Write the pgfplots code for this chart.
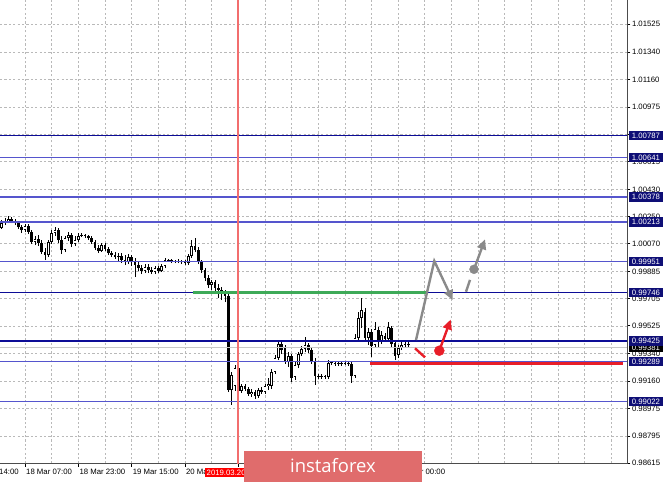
\documentclass[border=0pt]{standalone}
\usepackage{fontspec}
\setmainfont{Liberation Sans}
\newfontfamily\bannerfont{Open Sans}
\usepackage{pgfplots}
\pgfplotsset{compat=1.18}
\usepackage{pgfplotstable}
\usetikzlibrary{arrows.meta}

\definecolor{navyd}{RGB}{12,12,150}
\definecolor{navyl}{RGB}{85,85,205}
\definecolor{boxnavy}{RGB}{14,14,118}
\definecolor{gridc}{RGB}{185,185,185}
\definecolor{greenl}{RGB}{62,170,88}
\definecolor{redl}{RGB}{232,30,40}
\definecolor{vline}{RGB}{242,110,110}
\definecolor{arrowgray}{RGB}{138,138,138}
\definecolor{banner}{RGB}{224,108,108}
\definecolor{bidline}{RGB}{200,200,200}

\newcommand{\tk}{\fontsize{7.8}{9}\selectfont}

% H1 candles: x (px), open, high, low, close
\pgfplotstableread{
x o h l c
1.7 1.00173 1.00226 1.00167 1.00207
5.0 1.00207 1.00240 1.00193 1.00220
8.3 1.00220 1.00253 1.00207 1.00233
11.7 1.00233 1.00246 1.00207 1.00220
15.0 1.00220 1.00233 1.00193 1.00207
18.3 1.00207 1.00220 1.00167 1.00180
21.7 1.00180 1.00193 1.00140 1.00160
25.0 1.00160 1.00200 1.00147 1.00187
28.3 1.00187 1.00200 1.00134 1.00147
31.7 1.00147 1.00160 1.00067 1.00081
35.0 1.00081 1.00120 1.00061 1.00100
38.3 1.00100 1.00127 1.00054 1.00074
41.7 1.00074 1.00094 1.00001 1.00014
45.0 1.00014 1.00041 0.99961 0.99994
48.3 0.99994 1.00094 0.99981 1.00081
51.7 1.00081 1.00160 1.00067 1.00140
55.0 1.00140 1.00180 1.00120 1.00160
58.3 1.00160 1.00173 1.00074 1.00094
61.7 1.00094 1.00120 1.00001 1.00027
65.0 1.00027 1.00120 1.00014 1.00107
68.3 1.00107 1.00147 1.00087 1.00127
71.7 1.00127 1.00140 1.00047 1.00067
75.0 1.00067 1.00120 1.00054 1.00094
78.3 1.00094 1.00140 1.00081 1.00120
81.7 1.00120 1.00140 1.00114 1.00127
85.0 1.00127 1.00134 1.00107 1.00120
88.3 1.00120 1.00127 1.00094 1.00107
91.7 1.00107 1.00120 1.00067 1.00081
95.0 1.00081 1.00094 1.00027 1.00041
98.3 1.00041 1.00061 1.00008 1.00021
101.7 1.00021 1.00074 1.00014 1.00061
105.0 1.00061 1.00074 1.00021 1.00034
108.3 1.00034 1.00047 0.99994 1.00008
111.7 1.00008 1.00021 0.99981 0.99994
115.0 0.99994 1.00014 0.99968 0.99981
118.3 0.99981 1.00008 0.99955 0.99988
121.7 0.99988 1.00008 0.99941 0.99961
125.0 0.99961 0.99994 0.99928 0.99948
128.3 0.99948 1.00001 0.99935 0.99981
131.7 0.99981 0.99994 0.99921 0.99948
135.0 0.99948 0.99974 0.99848 0.99928
138.3 0.99928 0.99948 0.99888 0.99908
141.7 0.99908 0.99928 0.99868 0.99888
145.0 0.99888 0.99935 0.99875 0.99915
148.3 0.99915 0.99935 0.99875 0.99895
151.7 0.99895 0.99915 0.99868 0.99882
155.0 0.99882 0.99921 0.99868 0.99908
158.3 0.99908 0.99921 0.99875 0.99888
161.7 0.99888 0.99935 0.99882 0.99921
165.0 0.99921 0.99974 0.99908 0.99961
168.3 0.99961 0.99968 0.99948 0.99955
171.7 0.99955 0.99968 0.99941 0.99956
175.0 0.99955 0.99961 0.99941 0.99948
178.3 0.99948 0.99968 0.99941 0.99955
181.7 0.99955 0.99961 0.99935 0.99948
185.0 0.99948 0.99961 0.99928 0.99941
188.3 0.99941 1.00001 0.99928 0.99988
191.7 0.99988 1.00094 0.99974 1.00054
195.0 1.00054 1.00107 1.00014 1.00027
198.3 1.00027 1.00047 0.99935 0.99948
201.7 0.99948 0.99961 0.99875 0.99895
205.0 0.99895 0.99908 0.99822 0.99842
208.3 0.99842 0.99862 0.99776 0.99795
211.7 0.99795 0.99829 0.99762 0.99815
215.0 0.99815 0.99829 0.99736 0.99776
218.3 0.99776 0.99802 0.99709 0.99762
221.7 0.99762 0.99782 0.99696 0.99749
225.0 0.99749 0.99762 0.99683 0.99723
228.3 0.99723 0.99742 0.99086 0.99099
231.7 0.99099 0.99219 0.99000 0.99199
235.0 0.99126 0.99265 0.99093 0.99245
238.3 0.99245 0.99258 0.99080 0.99093
241.7 0.99093 0.99139 0.99080 0.99126
245.0 0.99126 0.99139 0.99093 0.99106
248.3 0.99106 0.99119 0.99060 0.99073
251.7 0.99073 0.99106 0.99053 0.99086
255.0 0.99086 0.99099 0.99040 0.99060
258.3 0.99060 0.99113 0.99046 0.99099
261.7 0.99099 0.99119 0.99073 0.99086
265.0 0.99086 0.99139 0.99073 0.99126
268.3 0.99126 0.99179 0.99099 0.99139
271.7 0.99126 0.99239 0.99106 0.99219
275.0 0.99219 0.99331 0.99205 0.99311
278.3 0.99311 0.99424 0.99298 0.99404
281.7 0.99404 0.99418 0.99338 0.99364
285.0 0.99378 0.99398 0.99272 0.99285
288.3 0.99285 0.99351 0.99252 0.99325
291.7 0.99325 0.99338 0.99152 0.99179
295.0 0.99186 0.99285 0.99166 0.99265
298.3 0.99265 0.99351 0.99245 0.99338
301.7 0.99338 0.99391 0.99325 0.99371
305.0 0.99371 0.99451 0.99351 0.99398
308.3 0.99398 0.99411 0.99345 0.99364
311.7 0.99364 0.99378 0.99272 0.99292
315.0 0.99292 0.99311 0.99133 0.99192
318.3 0.99192 0.99205 0.99172 0.99186
321.7 0.99186 0.99205 0.99172 0.99192
325.0 0.99192 0.99199 0.99172 0.99186
328.3 0.99186 0.99298 0.99172 0.99278
331.7 0.99278 0.99292 0.99265 0.99280
335.0 0.99278 0.99292 0.99258 0.99272
338.3 0.99272 0.99292 0.99258 0.99278
341.7 0.99278 0.99292 0.99258 0.99272
345.0 0.99272 0.99292 0.99265 0.99278
348.3 0.99278 0.99285 0.99258 0.99272
351.7 0.99272 0.99285 0.99146 0.99192
355.0 0.99192 0.99470 0.99179 0.99444
358.3 0.99444 0.99616 0.99418 0.99577
361.7 0.99577 0.99709 0.99510 0.99630
365.0 0.99616 0.99642 0.99418 0.99444
368.3 0.99444 0.99510 0.99398 0.99484
371.7 0.99484 0.99504 0.99318 0.99391
375.0 0.99398 0.99550 0.99378 0.99504
378.3 0.99497 0.99517 0.99378 0.99418
381.7 0.99424 0.99490 0.99404 0.99464
385.0 0.99457 0.99477 0.99418 0.99437
388.3 0.99437 0.99550 0.99424 0.99517
391.7 0.99510 0.99523 0.99384 0.99404
395.0 0.99411 0.99431 0.99298 0.99325
398.3 0.99331 0.99398 0.99311 0.99378
401.7 0.99378 0.99418 0.99364 0.99398
405.0 0.99398 0.99424 0.99378 0.99404
408.3 0.99404 0.99418 0.99384 0.99398
}\candles

\begin{document}
\begin{tikzpicture}
\path[use as bounding box] (0,0) rectangle (665bp,482bp);
\begin{axis}[
  at={(0,18.3bp)}, anchor=south west,
  scale only axis, width=627.3bp, height=463.7bp,
  xmin=0, xmax=627.3, ymin=0.986105, ymax=1.016862,
  axis x line*=bottom, axis y line*=right,
  axis line style={-, draw=black!70, line width=0.9bp},
  tick align=outside, major tick length=3bp, minor tick length=0pt,
  tick style={draw=black, line width=0.7bp},
  scaled ticks=false,
  xtick={25,78.3,131.6,184.9,238.2,291.5,344.8,398.1},
  xticklabels={18 Mar 07:00,18 Mar 23:00,19 Mar 15:00,20 Mar 07:00,20 Mar 23:00,21 Mar 15:00,22 Mar 07:00,21 Mar 00:00},
  minor xtick={51.65,104.95,158.25,211.55,264.85,318.15,371.45,424.75,451.4,478.05,504.7,531.35,558,584.65,611.3},
  ytick={0.98615,0.98795,0.98975,0.99160,0.99340,0.99525,0.99705,0.99885,1.00070,1.00250,1.00430,1.00615,1.00795,1.00975,1.01160,1.01340,1.01525},
  yticklabels={0.98615,0.98795,0.98975,0.99160,0.99340,0.99525,0.99705,0.99885,1.00070,1.00250,1.00430,1.00615,1.00795,1.00975,1.01160,1.01340,1.01525},
  grid=both,
  major grid style={draw=gridc, dash pattern=on 2.2bp off 2.2bp, line width=0.55bp},
  minor grid style={draw=gridc, dash pattern=on 2.2bp off 2.2bp, line width=0.55bp},
  xticklabel style={font=\tk, anchor=north west, inner sep=0pt, xshift=1bp, yshift=-2.5bp},
  yticklabel style={font=\tk, anchor=west, inner sep=0pt, xshift=1.5bp},
]
% wicks
\addplot[draw=none, mark=none, error bars/.cd, y dir=plus, y explicit, error mark=none,
  error bar style={draw=black, line width=0.9bp}]
  table[x=x, y=l, y error plus expr={\thisrow{h}-\thisrow{l}}] {\candles};
% bodies
\addplot[draw=none, mark=none, error bars/.cd, y dir=plus, y explicit, error mark=none,
  error bar style={draw=black, line width=2.9bp}]
  table[x=x, y expr={min(\thisrow{o},\thisrow{c})}, y error plus expr={max(abs(\thisrow{c}-\thisrow{o}),0.00008)}] {\candles};
% hollow inside of rising candles
\addplot[draw=none, mark=none, error bars/.cd, y dir=plus, y explicit, error mark=none,
  error bar style={draw=white, line width=1.1bp}]
  table[x=x, y expr={\thisrow{o}+0.00005}, y error plus expr={max(\thisrow{c}-\thisrow{o}-0.0001,0)}] {\candles};

% bid line
\addplot[bidline, line width=1bp] coordinates {(0,0.99381) (627.3,0.99381)};
% levels
\addplot[navyd, line width=1.2bp] coordinates {(0,1.00787) (627.3,1.00787)};
\addplot[navyl, line width=1.6bp] coordinates {(0,1.00641) (627.3,1.00641)};
\addplot[navyl, line width=1.6bp] coordinates {(0,1.00378) (627.3,1.00378)};
\addplot[navyl, line width=1.6bp] coordinates {(0,1.00213) (627.3,1.00213)};
\addplot[navyl, line width=1.6bp] coordinates {(0,0.99951) (627.3,0.99951)};
\addplot[navyd, line width=1.2bp] coordinates {(0,0.99746) (627.3,0.99746)};
\addplot[navyd, line width=1.2bp] coordinates {(0,0.99425) (627.3,0.99425)};
\addplot[navyl, line width=1.6bp] coordinates {(0,0.99289) (627.3,0.99289)};
\addplot[navyl, line width=1.6bp] coordinates {(0,0.99022) (627.3,0.99022)};
% green and red levels
\addplot[greenl, line width=3bp] coordinates {(193,0.99746) (428,0.99746)};
\addplot[redl, line width=2.6bp] coordinates {(370,0.99275) (623,0.99275)};
% vertical line
\addplot[vline, line width=1.3bp] coordinates {(237.9,0.986105) (237.9,1.016862)};

% forecast arrows
\addplot[arrowgray, line width=2.4bp, -{Triangle[length=10bp,width=9bp]}]
  coordinates {(416,0.99431) (434.3,0.99955) (452.7,0.99696)};
\addplot[arrowgray, line width=2.4bp] coordinates {(466,0.99751) (470,0.99830)};
\addplot[only marks, mark=*, mark size=4.5bp, mark options={draw=arrowgray, fill=arrowgray}]
  coordinates {(474,0.99900)};
\addplot[arrowgray, line width=2.4bp, -{Triangle[length=10bp,width=9bp]}]
  coordinates {(474,0.99900) (485,1.00099)};
\addplot[redl, line width=2.4bp] coordinates {(415,0.99376) (425,0.99316)};
\addplot[only marks, mark=*, mark size=5bp, mark options={draw=redl, fill=redl}]
  coordinates {(439.3,0.99360)};
\addplot[redl, line width=2.4bp, -{Triangle[length=10bp,width=9bp]}]
  coordinates {(439.3,0.99360) (450.7,0.99567)};

\coordinate (b1) at (axis cs:627.3,1.00787);
\coordinate (b2) at (axis cs:627.3,1.00641);
\coordinate (b3) at (axis cs:627.3,1.00378);
\coordinate (b4) at (axis cs:627.3,1.00213);
\coordinate (b5) at (axis cs:627.3,0.99951);
\coordinate (b6) at (axis cs:627.3,0.99746);
\coordinate (b7) at (axis cs:627.3,0.99425);
\coordinate (b8) at (axis cs:627.3,0.99289);
\coordinate (b9) at (axis cs:627.3,0.99022);
\coordinate (bid) at (axis cs:627.3,0.99381);
\end{axis}

% price tags on the right
\node[anchor=west, fill=black, text=white, font=\tk, inner xsep=3bp, inner ysep=0pt, minimum height=9.5bp] at ([xshift=1.4bp]bid) {0.99381};
\foreach \n/\v in {b1/1.00787,b2/1.00641,b3/1.00378,b4/1.00213,b5/0.99951,b6/0.99746,b7/0.99425,b8/0.99289,b9/0.99022}
  \node[anchor=west, fill=boxnavy, text=white, font=\tk, inner xsep=3bp, inner ysep=0pt, minimum height=9.5bp] at ([xshift=1.4bp]\n) {\v};

% cut-off first time label
\node[anchor=north west, inner sep=0pt, font=\tk] at (-27.3bp,12.8bp) {15 Mar 14:00};
% date tag of the vertical line
\node[anchor=west, fill=red, text=white, font=\tk, inner xsep=1.5bp, inner ysep=0pt, minimum height=9.5bp] at (205bp,9.3bp) {2019.03.20 15:00};
% watermark banner
\fill[banner] (244bp,0) rectangle (422bp,31bp);
\node[anchor=base, text=white, inner sep=0pt, font=\bannerfont\fontsize{18.5}{20}\selectfont] at (333bp,9.5bp) {instaforex};
\end{tikzpicture}
\end{document}
